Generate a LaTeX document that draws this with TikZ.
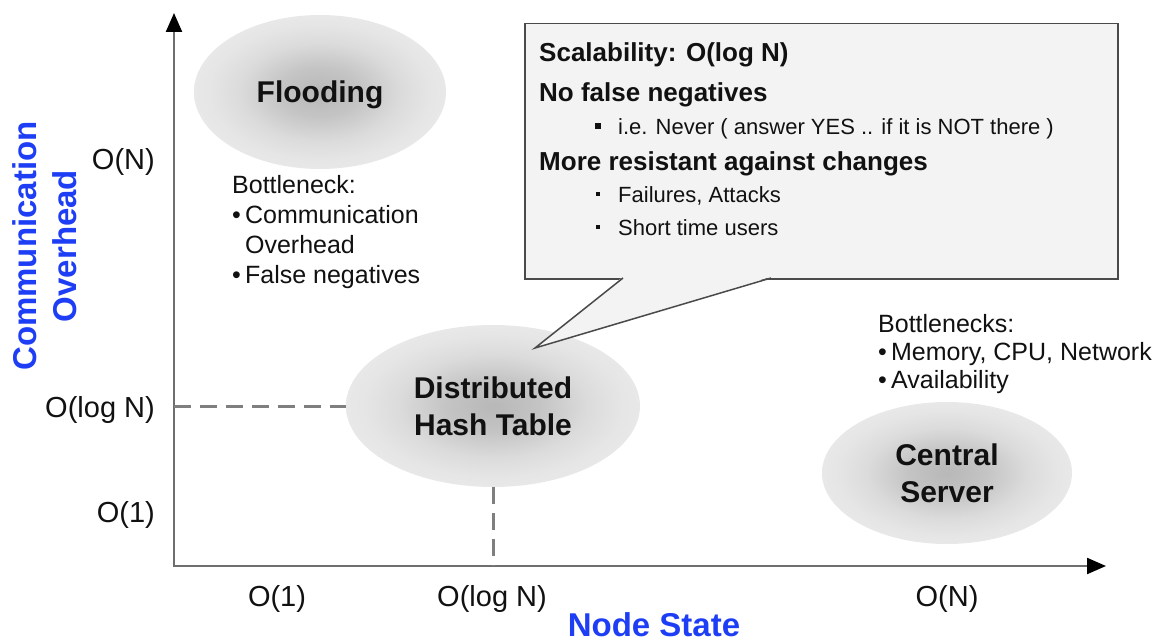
\documentclass[tikz,border=0pt]{standalone}
\usepackage{fontspec}
\setmainfont{Liberation Sans}
\usepackage{xcolor}
\usepackage{tikz}
\usetikzlibrary{calc,arrows.meta,shapes.geometric}
\definecolor{ink}{HTML}{111111}
\definecolor{axisgray}{HTML}{6E6E6E}
\definecolor{dashgray}{HTML}{7F7F7F}
\definecolor{axisblue}{HTML}{1E3EF5}
\definecolor{notebg}{HTML}{F3F3F3}
\definecolor{noteline}{HTML}{4A4A4A}
\pgfdeclareradialshading{blob}{\pgfpoint{0bp}{0bp}}{%
  color(0bp)=(black!28); color(8bp)=(black!23); color(16bp)=(black!14);
  color(22bp)=(black!10); color(25bp)=(black!9); color(50bp)=(black!9)}
\newcommand{\sqbullet}[1]{\llap{\raisebox{\dimexpr8pt-#1/2\relax}{\rule{#1}{#1}}\hspace{\dimexpr20pt-#1/2\relax}}}
\tikzset{
  axis/.style={draw=axisgray, line width=2.2pt,
    -{Triangle[length=19pt,width=16pt,color=black]}},
  guide/.style={draw=dashgray, line width=3pt, dash pattern=on 17pt off 9pt},
  approach/.style={ellipse, shade, shading=blob, inner sep=0pt,
    font=\fontsize{30}{37}\selectfont\bfseries, text=ink, align=center},
  tick/.style={font=\fontsize{29}{34}\selectfont, text=ink, anchor=base, inner sep=0pt},
  axlabel/.style={font=\fontsize{33}{40}\selectfont\bfseries, text=axisblue, align=center},
  remark/.style={text=ink, align=left, anchor=base west, inner sep=0pt},
  note/.style={draw=noteline, fill=notebg, line width=1.5pt, inner sep=0pt},
  head/.style={font=\fontsize{26}{30}\selectfont\bfseries, text=ink, anchor=base west, inner sep=0pt},
  item/.style={font=\fontsize{22}{26}\selectfont, text=ink, anchor=base west, inner sep=0pt}
}

\begin{document}
\begin{tikzpicture}[x=1pt, y=-1pt]
  \useasboundingbox (0,0) rectangle (1172,642);

  % axes
  \coordinate (origin) at (174,567);
  \coordinate (ytop) at (174,13);
  \coordinate (xend) at (1106,566);
  \draw[axis] (origin) -- (ytop);
  \draw[axis] (origin |- xend) -- (xend);

  % the three approaches
  \node[approach, text depth=0pt, minimum width=252, minimum height=154] (flood) at (320,92) {Flooding};
  \node[approach, minimum width=294, minimum height=162] (dht) at (493,406) {Distributed\\Hash Table};
  \node[approach, minimum width=250, minimum height=142] (server) at (947,473) {Central\\Server};

  % dashed guides to the axes
  \coordinate (ylog) at (174,406);
  \coordinate (xlog) at (493,566);
  \draw[guide] (ylog) -- (dht.west);
  \draw[guide] (dht.south) -- (xlog);

  % tick labels
  \node[tick, anchor=base east] (yn) at (155,169) {O(N)};
  \node[tick, anchor=base east] (ylogn) at (155,417) {O(log N)};
  \node[tick, anchor=base east] (yone) at (155,522) {O(1)};
  \node[tick] (xone) at (277,606) {O(1)};
  \node[tick] (xlogn) at (492,606) {O(log N)};
  \node[tick] (xn) at (947,606) {O(N)};

  % axis titles
  \node[axlabel, rotate=90] (ylab) at (45,246) {Communication\\Overhead};
  \node[axlabel, anchor=base] (xlab) at (654,636) {Node State};

  % bottlenecks (base = last line)
  \node[remark, font=\fontsize{25}{30}\selectfont] (floodnote) at (232,283)
    {Bottleneck:\\•\,Communication\\\phantom{•\,}Overhead\\•\,False negatives};
  \node[remark, font=\fontsize{25}{28}\selectfont] (servernote) at (878,388)
    {Bottlenecks:\\•\,Memory, CPU, Network\\•\,Availability};

  % callout pointing at the DHT
  \node[note, minimum width=593, minimum height=255, anchor=north west] (box) at (524,23) {};
  \coordinate (baseL) at (623,278);
  \coordinate (baseR) at (771,278);
  \coordinate (tip) at (535,348);
  \fill[notebg] ($(baseL)+(0,-1.2)$) -- (tip) -- ($(baseR)+(0,-1.2)$) -- cycle;
  \draw[noteline, line width=1.5pt, line join=miter] (baseL) -- (tip) -- (baseR);

  \node[head] (scal) at (539,62) {Scalability: O(log N)};
  \node[head] (nofalse) at (539,101) {No false negatives};
  \node[item] (never) at (618,134) {\sqbullet{6pt}i.e. Never ( answer YES .. if it is NOT there )};
  \node[head] (resist) at (539,170) {More resistant against changes};
  \node[item] (fail) at (618,202) {\sqbullet{4pt}Failures, Attacks};
  \node[item] (short) at (618,235) {\sqbullet{4pt}Short time users};
\end{tikzpicture}
\end{document}
